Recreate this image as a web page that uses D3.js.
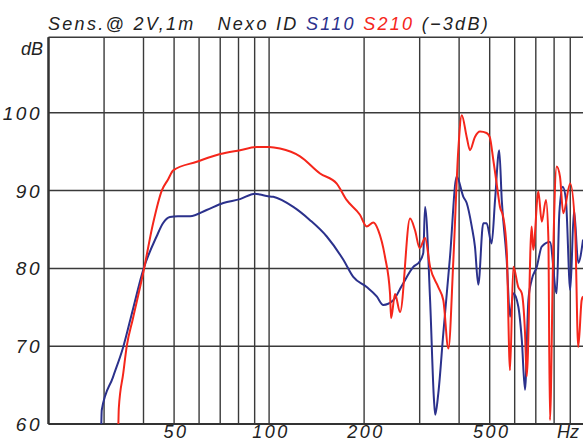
<!DOCTYPE html>
<html><head><meta charset="utf-8">
<script src="https://cdn.jsdelivr.net/npm/d3@7"></script>
<style>
html,body{margin:0;padding:0;background:#fff;}
svg{display:block;}
text{font-family:"Liberation Sans",Arial,sans-serif;font-style:italic;}
</style></head><body>
<svg id="chart" width="583" height="443"></svg>
<script>
// ---- data ----
const xTicks = [20,30,40,50,60,70,80,90,100,200,300,400,500,600,700,800,900,1000];
const xLabels = [50,100,200,500];
const yTicks = [60,70,80,90,100];

const s110Freq = [29.4,29.5,32.0,34.5,37.0,39.9,44.0,46.1,48.5,51.4,56.2,63.4,71.6,80.9,90.2,93.6,98.3,103.1,119.3,134.8,152.3,171.9,184.8,203.8,219.3,230,247.4,262,266.2,286.4,300,308,312,323.7,333,336,343.6,356.5,374.3,393,412.6,422.8,438.6,449,460,477,489,507,520,536,546,566,580,594,616,632,647,663,679,705,731,776,815,831,852,872,900,925,954,988];
const s110dB   = [60.0,61.8,66.0,69.9,74.7,79.8,84.1,85.8,86.6,86.7,86.7,87.5,88.4,88.9,89.6,89.5,89.3,89.2,87.9,86.2,84.1,81.1,78.9,77.6,76.4,75.3,75.9,77.6,78.1,80.2,80.9,82.0,87.9,75.9,63.1,61.2,63.9,71.7,81.5,91.8,89.2,88.4,85.4,82.8,77.9,85.8,85.8,83.2,88.8,95.2,88.8,81.1,73.8,76.8,75.1,70.8,64.4,75.9,78.5,80.2,82.8,83.4,76.8,87.1,90.5,88.8,77.2,87.5,80.7,83.7];

const s210Freq = [33.3,33.4,34.5,35.4,37.0,39.9,42.9,45.7,47.8,49.7,59.0,70.0,80.9,91.5,100,108.3,125.3,145,163.8,176,194,203.8,213.9,221.8,232.9,241.6,243.5,250.6,260,279.6,290,300,312,323.7,343.6,356.5,369.9,383.6,397.6,407.8,422.7,433,449,465.9,489,500,513.5,526,539,552,566,580,594,616,632,647,655,679,687,713,731,754,767,776,795,815,835,855,900,932,954,978,988];
const s210dB   = [60.0,62.0,66.5,70.0,73.5,79.4,85.8,90.0,91.4,92.6,93.7,94.7,95.2,95.6,95.6,95.4,94.4,92.2,90.9,88.8,86.9,85.4,85.9,84.9,81.5,76.8,73.6,76.7,74.4,86.4,84.9,82.6,83.9,80.2,77.6,75.9,69.7,81.1,95.2,99.7,96.9,95.2,96.9,97.6,97.4,96.9,93.9,90.9,87.9,86.6,82.4,66.9,80.2,77.6,76.8,71.7,66.1,85.4,82.4,89.9,86.0,88.8,84.0,60.5,82.4,93.1,91.8,87.1,90.9,85.4,69.9,75.9,76.4];

const titleParts = [
  {t:"Sens.@ 2V,1m   Nexo ID ", c:"#222"},
  {t:"S110 ", c:"#2b318c"},
  {t:"S210 ", c:"#f5261b"},
  {t:"(\u22123dB)", c:"#222"}
];

// ---- layout ----
const svg = d3.select("#chart");
const x = d3.scaleLog().domain([20,1000]).range([48.5,584.7]);
const y = d3.scaleLinear().domain([60,110]).range([424,35]);
const yTop = y(109.7);
const gridCol = "#3a3a3a";

// grid verticals
svg.append("g").selectAll("line").data(xTicks).join("line")
  .attr("x1",d=>x(d)).attr("x2",d=>x(d))
  .attr("y1",yTop).attr("y2",y(60))
  .attr("stroke",gridCol).attr("stroke-width",1.4);
// grid horizontals
svg.append("g").selectAll("line").data(yTicks).join("line")
  .attr("x1",x(20)).attr("x2",583)
  .attr("y1",d=>y(d)).attr("y2",d=>y(d))
  .attr("stroke",gridCol).attr("stroke-width",1.5);
// frame
svg.append("line").attr("x1",x(20)).attr("x2",583).attr("y1",yTop).attr("y2",yTop)
  .attr("stroke",gridCol).attr("stroke-width",1.5);
svg.append("line").attr("x1",x(20)).attr("x2",583).attr("y1",y(60)).attr("y2",y(60))
  .attr("stroke","#333").attr("stroke-width",2.2);
svg.append("line").attr("x1",x(20)).attr("x2",x(20)).attr("y1",yTop).attr("y2",y(60))
  .attr("stroke","#333").attr("stroke-width",2.4);

// clip
svg.append("clipPath").attr("id","plot").append("rect")
  .attr("x",x(20)).attr("y",yTop).attr("width",583-x(20)).attr("height",y(60)-yTop);

const line = d3.line().x(d=>x(d[0])).y(d=>y(d[1])).curve(d3.curveMonotoneX);
const s110 = s110Freq.map((f,i)=>[f,s110dB[i]]);
const s210 = s210Freq.map((f,i)=>[f,s210dB[i]]);
const curves = svg.append("g").attr("clip-path","url(#plot)");
curves.append("path").datum(s110).attr("d",line).attr("fill","none")
  .attr("stroke","#2b318c").attr("stroke-width",2).attr("stroke-linejoin","round");
curves.append("path").datum(s210).attr("d",line).attr("fill","none")
  .attr("stroke","#f5261b").attr("stroke-width",2).attr("stroke-linejoin","round");

// y labels
svg.append("g").selectAll("text").data(yTicks).join("text")
  .attr("x",42).attr("y",d=>y(d)+7).attr("text-anchor","end")
  .attr("font-size",19).attr("letter-spacing",2.5).attr("fill","#222")
  .text(d=>d);
svg.append("text").attr("x",43).attr("y",55).attr("text-anchor","end")
  .attr("font-size",18).attr("fill","#222").text("dB");

// x labels
svg.append("g").selectAll("text").data(xLabels).join("text")
  .attr("x",d=>x(d)+2).attr("y",438).attr("text-anchor","middle")
  .attr("font-size",18).attr("letter-spacing",2.5).attr("fill","#222")
  .text(d=>d);
svg.append("text").attr("x",557).attr("y",438).attr("font-size",18)
  .attr("fill","#222").text("Hz");

// title
const title = svg.append("text").attr("x",48).attr("y",30)
  .attr("font-size",18).attr("letter-spacing",2.3).attr("xml:space","preserve")
  .style("white-space","pre");
titleParts.forEach(p=>title.append("tspan").attr("fill",p.c).text(p.t));
</script>
</body></html>
